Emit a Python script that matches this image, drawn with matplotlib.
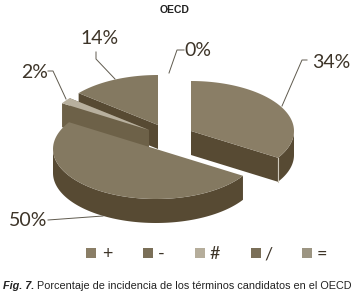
import numpy as np
import matplotlib
matplotlib.use('Agg')
import matplotlib.pyplot as plt
from matplotlib.patches import Polygon

labels = ['+', '-', '#', '/', '=']
values = [34, 50, 2, 14, 0]
pct_labels = ['34%', '50%', '2%', '14%', '0%']
top_colors = ['#8a7e66', '#847961', '#b8b09e', '#847961', '#9c9582']
side_colors = ['#574a33', '#574a33', '#6d6148', '#574a33', '#6d6148']
legend_colors = ['#8a7e66', '#7a6f58', '#b5ad9b', '#7a6f58', '#9c9582']
# apex of each exploded slice, in pixels
centers = [(191, 131), (156, 149), (149, 130), (158, 125), (170, 130)]

RX, RY, DEPTH = 103, 50, 24


def pt(c, th):
    return c[0] + RX * np.sin(th), c[1] - RY * np.cos(th)


fig = plt.figure(figsize=(3.53, 2.98), dpi=100)
ax = fig.add_axes([0, 0, 1, 1])
ax.set_xlim(0, 353)
ax.set_ylim(298, 0)
ax.axis('off')

fr = np.cumsum([0] + values) / sum(values) * 2 * np.pi

# back to front
for i in [3, 2, 0, 1]:
    a, b = fr[i], fr[i + 1]
    c = centers[i]
    th = np.linspace(a, b, 80)
    xs, ys = pt(c, th)
    # cut face
    for t in (a, b):
        if np.cos(t) * np.sin(t) < 0 and (i != 1):
            px, py = pt(c, t)
            face = [(c[0], c[1]), (px, py), (px, py + DEPTH), (c[0], c[1] + DEPTH)]
            ax.add_patch(Polygon(face, fc=side_colors[i], ec='none', zorder=2))
    # outer wall, only the part facing us
    lo, hi = max(a, np.pi / 2), min(b, 3 * np.pi / 2)
    if hi > lo:
        tw = np.linspace(lo, hi, 80)
        wx, wy = pt(c, tw)
        wall = list(zip(wx, wy)) + list(zip(wx[::-1], wy[::-1] + DEPTH))
        ax.add_patch(Polygon(wall, fc=side_colors[i], ec='none', zorder=2))
    ax.add_patch(Polygon([c] + list(zip(xs, ys)), fc=top_colors[i], ec='none', zorder=2))

# light edge at the corner of the right slice
px, py = pt(centers[0], fr[1])
ax.plot([px, px], [py, py + DEPTH], color='#cfc9ba', lw=0.8, zorder=3)

lab_font = dict(family=['Lato', 'DejaVu Sans'], color='#3d3428', fontsize=14)
lab_pos = [(331, 62), (28, 221), (35, 72), (100, 38), (198, 51)]
lines = [
    [(307, 60), (302, 60), (282, 106)],
    [(48, 220), (103, 216)],
    [(48, 71), (53, 71), (66, 99)],
    [(96, 52), (96, 59), (115, 79)],
    [(184, 50), (177, 50), (169, 73)],
]
for i in range(len(values)):
    ax.text(lab_pos[i][0], lab_pos[i][1], pct_labels[i], ha='center', va='center', **lab_font)
    lx, ly = zip(*lines[i])
    ax.plot(lx, ly, color='#5f5a4e', lw=0.7, zorder=4)

# legend
leg_x = [91, 148, 200, 256, 307]
leg_tx = [107, 161, 215, 268, 322]
for i, lab in enumerate(labels):
    ax.scatter(leg_x[i], 253, marker='s', s=50, color=legend_colors[i], linewidths=0)
    ax.text(leg_tx[i], 254, lab, ha='center', va='center', fontsize=13,
            family=['Lato', 'DejaVu Sans'], color='#3d3428')

cond = ['Liberation Sans Narrow', 'Liberation Sans', 'DejaVu Sans']
ax.text(175, 10, 'OECD', ha='center', va='center', fontsize=7.5, weight='bold', family=cond, color='#222222')

# caption: bold lead-in, then the rest, fitted to the width of the picture
size = 7.4
t1 = ax.text(3, 286, 'Fig. 7.', ha='left', va='center', fontsize=size, style='italic', weight='bold',
             family=cond, color='#222222')
t2 = ax.text(30, 286, 'Porcentaje de incidencia de los términos candidatos en el OECD', ha='left', va='center',
             fontsize=size, family=cond, color='#222222')
fig.canvas.draw()
r = fig.canvas.get_renderer()
w1 = t1.get_window_extent(r).width
w2 = t2.get_window_extent(r).width
size = size * 346 / (w1 + 3 + w2)
t1.set_fontsize(size)
t2.set_fontsize(size)
t2.set_x(3 + w1 * 346 / (w1 + 3 + w2) + 3)

plt.savefig('out.png', dpi=100)
plt.close()
